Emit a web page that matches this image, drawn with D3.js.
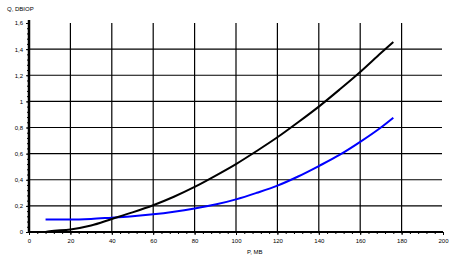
<!DOCTYPE html>
<html>
<head>
<meta charset="utf-8">
<script src="https://cdn.jsdelivr.net/npm/d3@7"></script>
<style>
  body { margin: 0; background: #fff; }
  svg text { font-family: "Liberation Sans", Arial, sans-serif; font-size: 6px; fill: #000; }
</style>
</head>
<body>
<svg width="463" height="266"></svg>
<script>
// data
var powerBlack = [8, 10, 20, 30, 40, 50, 60, 70, 80, 90, 100, 110, 120, 130, 140, 150, 160, 170, 176];
var lossBlack = [0, 0.005, 0.02, 0.05, 0.1, 0.15, 0.205, 0.27, 0.345, 0.43, 0.52, 0.62, 0.725, 0.84, 0.96, 1.09, 1.225, 1.37, 1.455];
var powerBlue = [8, 20, 30, 40, 50, 60, 70, 80, 90, 100, 110, 120, 130, 140, 150, 160, 170, 176];
var lossBlue = [0.095, 0.095, 0.1, 0.11, 0.12, 0.135, 0.155, 0.18, 0.21, 0.25, 0.3, 0.355, 0.425, 0.505, 0.59, 0.69, 0.8, 0.875];
var xTicks = [0, 20, 40, 60, 80, 100, 120, 140, 160, 180, 200];
var yTicks = [0, 0.2, 0.4, 0.6, 0.8, 1, 1.2, 1.4, 1.6];

var svg = d3.select('svg');
var x = d3.scaleLinear().domain([0, 200]).range([29, 443]);
var y = d3.scaleLinear().domain([0, 1.6]).range([232, 23]);
var fmt = function(d){ return String(d).replace('.', ','); };

// grid
svg.append('g').selectAll('line')
  .data(xTicks.filter(d => d > 0 && d < 200))
  .enter().append('line')
  .attr('x1', d => x(d)).attr('x2', d => x(d))
  .attr('y1', y(1.6)).attr('y2', y(0))
  .attr('stroke', '#000').attr('stroke-width', 1.2);
svg.append('g').selectAll('line')
  .data(yTicks.filter(d => d > 0 && d < 1.6))
  .enter().append('line')
  .attr('x1', x(0)).attr('x2', x(200) - 1)
  .attr('y1', d => y(d)).attr('y2', d => y(d))
  .attr('stroke', '#000').attr('stroke-width', 1.2);

// axes
var xAxis = d3.axisBottom(x).tickValues(xTicks).tickSize(3).tickFormat(fmt);
var xMinor = d3.axisBottom(x).tickValues(d3.range(0, 201, 4)).tickSize(2).tickFormat('');
var yAxis = d3.axisLeft(y).tickValues(yTicks).tickSize(3).tickFormat(fmt);
var yMinor = d3.axisLeft(y).tickValues(d3.range(0, 1.601, 0.04)).tickSize(2).tickFormat('');

var gxm = svg.append('g').attr('transform', 'translate(0,' + y(0) + ')').call(xMinor);
var gx = svg.append('g').attr('transform', 'translate(0,' + y(0) + ')').call(xAxis);
var gym = svg.append('g').attr('transform', 'translate(' + x(0) + ',0)').call(yMinor);
var gy = svg.append('g').attr('transform', 'translate(' + x(0) + ',0)').call(yAxis);
[gx, gxm, gy, gym].forEach(function(g){
  g.attr('font-size', null).attr('font-family', null);
  g.select('.domain').remove();
  g.selectAll('line').attr('stroke', '#000');
});
gx.selectAll('text').attr('dy', '0.9em').attr('y', 6);
gy.selectAll('text').attr('x', -6);

svg.append('line').attr('x1', x(0)).attr('x2', x(200))
  .attr('y1', y(0)).attr('y2', y(0))
  .attr('stroke', '#000').attr('stroke-width', 2);
svg.append('line').attr('x1', x(0)).attr('x2', x(0))
  .attr('y1', y(1.6) - 3).attr('y2', y(0) + 1)
  .attr('stroke', '#000').attr('stroke-width', 2.5);

// curves
var line = d3.line().curve(d3.curveMonotoneX).x(d => x(d[0])).y(d => y(d[1]));
svg.append('path').datum(d3.zip(powerBlue, lossBlue))
  .attr('d', line).attr('fill', 'none').attr('stroke', '#0000ff').attr('stroke-width', 2);
svg.append('path').datum(d3.zip(powerBlack, lossBlack))
  .attr('d', line).attr('fill', 'none').attr('stroke', '#000').attr('stroke-width', 2);

// labels
svg.append('text').attr('x', 7).attr('y', 11).text('Q, DBIOP');
svg.append('text').attr('x', 247).attr('y', 254).text('P, MB');
</script>
</body>
</html>
